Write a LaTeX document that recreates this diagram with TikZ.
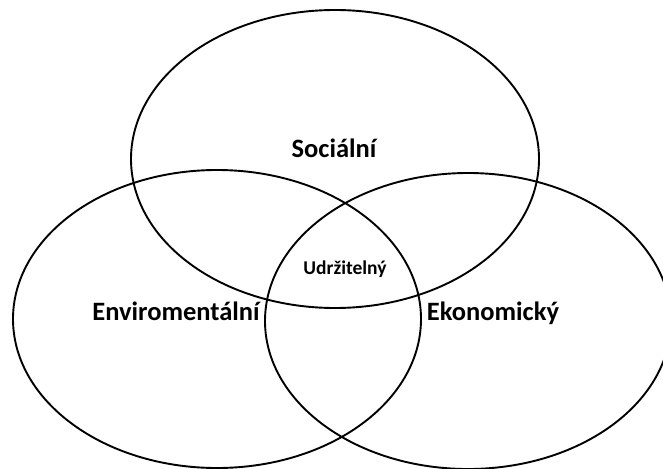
\documentclass[tikz,border=0pt]{standalone}
\usepackage{fontspec}
\setmainfont{Carlito}
\usepackage{tikz}
\usetikzlibrary{positioning}

\begin{document}
\begin{tikzpicture}[x=1pt,y=1pt]
                \tikzstyle{every node}+=[inner sep=0pt,anchor=base,font=\bfseries\fontsize{26.5}{30}\selectfont]
                \useasboundingbox (0,0) rectangle (663,-468);
                \clip (0,0) rectangle (663,-468);
                \draw [black, line width=1.9pt] (335,-159) ellipse (204 and 149);
                \draw (334,-157) node (soc) {Sociální};
                \draw [black, line width=1.9pt] (217,-319) ellipse (204 and 149);
                \draw (176,-320) node (env) {Enviromentální};
                \draw [black, line width=1.9pt] (468,-321) ellipse (203 and 148);
                \draw (493,-320) node (eko) {Ekonomický};
                \draw (345,-274) node [font=\bfseries\fontsize{19.5}{22}\selectfont] (udr) {Udržitelný};
            \end{tikzpicture}
\end{document}
